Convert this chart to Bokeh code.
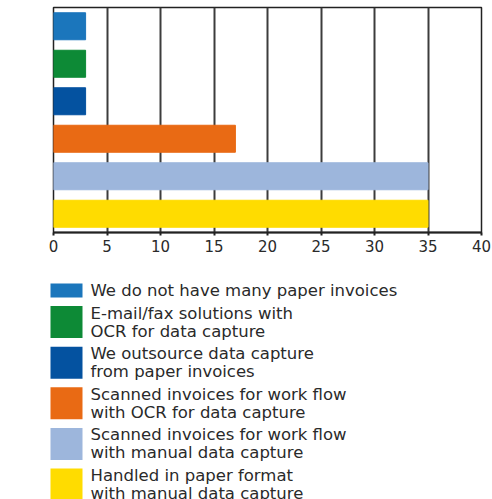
from bokeh.plotting import figure
from bokeh.layouts import column, row
from bokeh.models import FactorRange, Range1d, FixedTicker, Label, ColumnDataSource
from bokeh.core.properties import value
from bokeh.embed import file_html
from bokeh.resources import INLINE

# How invoices arriving on paper are handled (% of respondents)
categories = [
    "We do not have many paper invoices",
    "E-mail/fax solutions with\nOCR for data capture",
    "We outsource data capture\nfrom paper invoices",
    "Scanned invoices for work flow\nwith OCR for data capture",
    "Scanned invoices for work flow\nwith manual data capture",
    "Handled in paper format\nwith manual data capture",
]
shares = [3, 3, 3, 17, 35, 35]
colors = ["#1b76bc", "#0d8a36", "#0452a0", "#e96a14", "#9db6dc", "#ffdc00"]
x_ticks = [0, 5, 10, 15, 20, 25, 30, 35, 40]

FONT = "DejaVu Sans"
TEXT_COLOR = "#2a2a2a"

keys = [f"c{i}" for i in range(len(categories))]

# ---- bar chart ----
p = figure(
    width=492, height=262,
    y_range=FactorRange(*reversed(keys), range_padding=0),
    x_range=Range1d(0, 40),
    output_backend="svg", toolbar_location=None,
    min_border_left=53, min_border_right=11, min_border_top=7, min_border_bottom=30,
)
p.outline_line_color = "#222222"
p.outline_line_width = 1.5

src = ColumnDataSource(dict(key=keys, share=shares, color=colors))
p.hbar(y="key", right="share", left=0, height=0.72, color="color", source=src)

p.yaxis.visible = False
p.ygrid.visible = False
p.xgrid.ticker = FixedTicker(ticks=x_ticks)
p.xgrid.grid_line_color = "#3c3c3c"
p.xgrid.grid_line_width = 2

p.xaxis.ticker = FixedTicker(ticks=x_ticks)
p.xaxis.axis_line_color = "#222222"
p.xaxis.axis_line_width = 2
p.xaxis.major_tick_line_color = "#222222"
p.xaxis.major_tick_line_width = 2
p.xaxis.major_tick_in = 0
p.xaxis.major_tick_out = 3
p.xaxis.minor_tick_line_color = None
p.xaxis.major_label_text_font = FONT
p.xaxis.major_label_text_font_size = "15px"
p.xaxis.major_label_text_color = TEXT_COLOR
p.xaxis.major_label_standoff = 4

p.add_layout(Label(
    x=0, y=0, x_offset=-28, y_offset=-14, text="%",
    text_font=FONT, text_font_size="15px", text_color=TEXT_COLOR,
    text_align="center", text_baseline="middle",
))

# ---- legend panel ----
LEG_H = 237
lg = figure(
    width=492, height=LEG_H,
    x_range=Range1d(0, 492), y_range=Range1d(LEG_H, 0),
    output_backend="svg", toolbar_location=None,
    min_border=0,
)
lg.axis.visible = False
lg.grid.visible = False
lg.outline_line_color = None

tops, bottoms, mids = [], [], []
y = 21.0
for label in categories:
    n_lines = label.count("\n") + 1
    h = 14 if n_lines == 1 else 32
    tops.append(y)
    bottoms.append(y + h)
    mids.append(y + h / 2)
    y += h + 8.6

lsrc = ColumnDataSource(dict(
    top=tops, bottom=bottoms, mid=mids, label=categories, color=colors,
    left=[50] * len(categories), right=[82] * len(categories),
    tx=[90] * len(categories),
))
lg.quad(left="left", right="right", top="top", bottom="bottom",
        fill_color="color", line_color=None, source=lsrc)
lg.text(x="tx", y="mid", text="label", source=lsrc,
        text_font=value(FONT), text_font_size="16.5px", text_color=TEXT_COLOR,
        text_baseline="middle", text_align="left", text_line_height=0.95)

layout = column(p, row(lg), spacing=0)
open("out.html", "w").write(file_html(layout, INLINE))
